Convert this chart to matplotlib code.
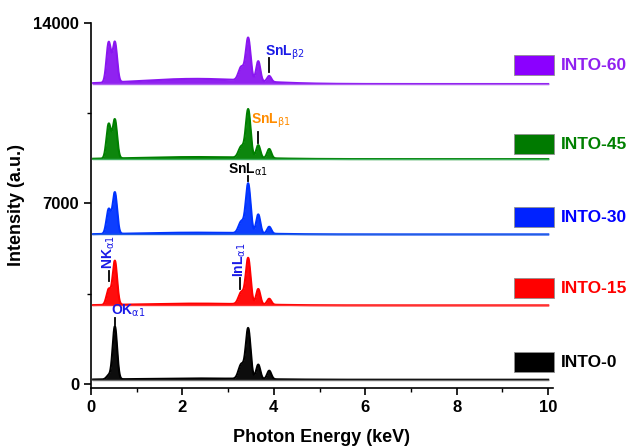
import numpy as np
import matplotlib
matplotlib.use("Agg")
import matplotlib.pyplot as plt
from matplotlib.patches import Rectangle
from matplotlib.ticker import MultipleLocator

plt.rcParams['font.family'] = ['Liberation Sans', 'DejaVu Sans']

# ---- data ----
samples = ["INTO-0", "INTO-15", "INTO-30", "INTO-45", "INTO-60"]
baselines = [170, 3050, 5800, 8720, 11630]
# peak energies (keV): N Ka, O Ka, In La, Sn La, Sn Lb1, Sn Lb2
peak_kev = [0.39, 0.525, 3.29, 3.44, 3.66, 3.90]
peak_sigma = [0.048, 0.048, 0.06, 0.052, 0.045, 0.045]
amp_into0 = [150, 2050, 560, 1950, 560, 330]
amp_into15 = [600, 1700, 460, 1780, 600, 230]
amp_into30 = [950, 1600, 450, 1920, 740, 270]
amp_into45 = [1330, 1500, 430, 1870, 500, 360]
amp_into60 = [1550, 1550, 520, 1650, 780, 230]
amplitudes = [amp_into0, amp_into15, amp_into30, amp_into45, amp_into60]
continuum = [50, 70, 70, 80, 200]   # broad bremsstrahlung hump height

line_colors = ["#000000", "#FF0000", "#0033FF", "#008000", "#8A16F0"]
base_colors = ["#707070", "#FF3030", "#2060E0", "#40B060", "#B060F0"]
legend_colors = ["#000000", "#FF0000", "#0022FF", "#007A00", "#8B00FF"]
label_colors = ["#000000", "#FF0000", "#0000FF", "#008000", "#9020F0"]
legend_y = [850, 3720, 6470, 9300, 12360]

energy = np.linspace(0.05, 10, 3000)

fig = plt.figure(figsize=(6.31, 4.48), dpi=100)
ax = fig.add_axes([0.144, 0.134, 0.732, 0.815])

for i, name in enumerate(samples):
    b = baselines[i]
    y = np.full_like(energy, float(b))
    hump = np.exp(-0.5 * ((energy - 2.3) / 1.2) ** 2)
    y += continuum[i] * hump
    for c, s, a in zip(peak_kev, peak_sigma, amplitudes[i]):
        y += a * np.exp(-0.5 * ((energy - c) / s) ** 2)
    ax.fill_between(energy, b, y, color=line_colors[i], lw=0, alpha=0.95)
    ax.plot(energy, y, color=line_colors[i], lw=1.5)
    ax.plot([0.05, 10], [b, b], color=base_colors[i], lw=1.0)
    ax.add_patch(Rectangle((9.25, legend_y[i] - 390), 0.87, 780,
                           facecolor=legend_colors[i], edgecolor='#909090',
                           lw=0.6, clip_on=False, zorder=5))
    ax.text(10.28, legend_y[i], name, color=label_colors[i], fontsize=12.5,
            fontweight='bold', va='center', ha='left', clip_on=False)

# ---- peak annotations ----
def mark(x, y0, y1, color='black'):
    ax.plot([x, x], [y0, y1], color=color, lw=1.3, zorder=6)

mark(3.90, 12100, 12620)
ax.text(3.8, 12500, r"SnL$_{\mathrm{\beta2}}$", color="#1A1AE6", fontsize=10,
        fontweight='bold', ha='left', va='bottom')
mark(3.66, 9350, 9780)
ax.text(3.5, 9830, r"SnL$_{\mathrm{\beta1}}$", color="#FF8C00", fontsize=10,
        fontweight='bold', ha='left', va='bottom')
mark(3.44, 7880, 8080)
ax.text(3.44, 7980, r"SnL$_{\mathrm{\alpha1}}$", color="black", fontsize=10,
        fontweight='bold', ha='center', va='bottom')
mark(0.39, 3980, 4400)
ax.text(0.39, 4450, r"NK$_{\mathrm{\alpha1}}$", color="#1A1AE6", fontsize=10,
        fontweight='bold', ha='center', va='bottom', rotation=90)
mark(3.26, 3680, 4100)
ax.text(3.26, 4150, r"InL$_{\mathrm{\alpha1}}$", color="#1A1AE6", fontsize=10,
        fontweight='bold', ha='center', va='bottom', rotation=90)
mark(0.525, 2300, 2560)
ax.text(0.43, 2540, r"OK$_{\mathrm{\alpha1}}$", color="#1A1AE6", fontsize=10,
        fontweight='bold', ha='left', va='bottom')

# ---- axes styling ----
ax.set_xlim(0, 10.1)
ax.set_ylim(-150, 14000)
ax.spines['top'].set_visible(False)
ax.spines['right'].set_visible(False)
ax.spines['left'].set_linewidth(1.2)
ax.spines['bottom'].set_linewidth(1.2)
ax.set_xticks([0, 2, 4, 6, 8, 10])
ax.set_yticks([0, 7000, 14000])
ax.xaxis.set_minor_locator(MultipleLocator(1))
ax.yaxis.set_minor_locator(MultipleLocator(3500))
ax.tick_params(which='major', direction='out', length=5, width=1.2,
               labelsize=12)
ax.tick_params(which='minor', direction='out', length=3, width=1.0)
for lab in ax.get_xticklabels() + ax.get_yticklabels():
    lab.set_fontweight('bold')
ax.set_xlabel("Photon Energy (keV)", fontsize=13, fontweight='bold', labelpad=10)
ax.set_ylabel("Intensity (a.u.)", fontsize=13, fontweight='bold', labelpad=6)

fig.savefig("out.png", dpi=100)
